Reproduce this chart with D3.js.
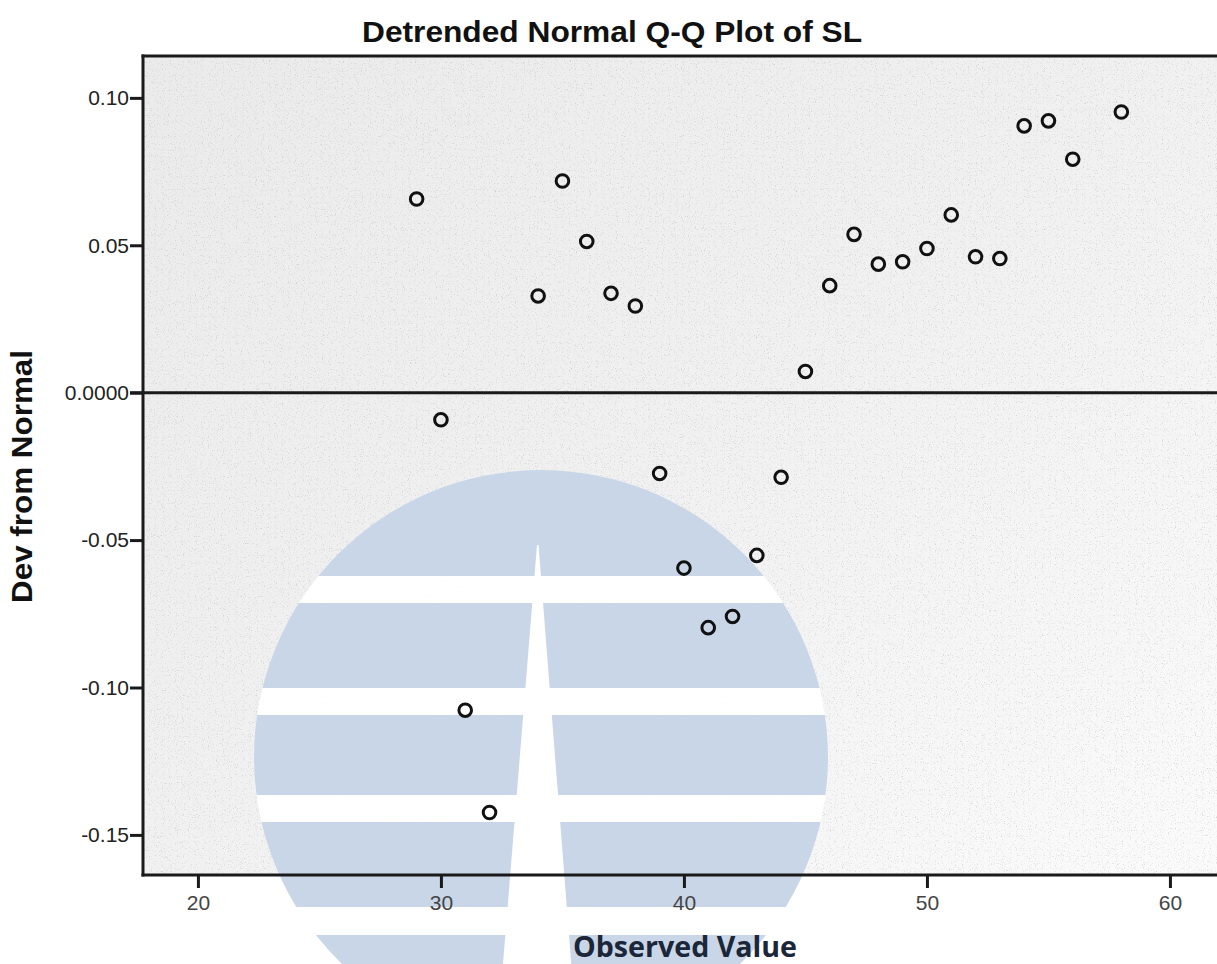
<!DOCTYPE html>
<html>
<head>
<meta charset="utf-8">
<title>Detrended Normal Q-Q Plot of SL</title>
<script src="https://d3js.org/d3.v7.min.js"></script>
<style>
  body { margin: 0; background: #fff; }
  svg text { font-family: Arial, "Liberation Sans", sans-serif; }
</style>
</head>
<body>
<div id="chart"></div>
<script>
// Observed values (x) and their deviation from normal (y)
var observed = [29, 30, 31, 32, 34, 35, 36, 37, 38, 39, 40, 41, 42, 43,
                44, 45, 46, 47, 48, 49, 50, 51, 52, 53, 54, 55, 56, 58];
var devFromNormal = [0.0657, -0.0092, -0.1077, -0.1424, 0.0328, 0.0718, 0.0513,
                     0.0337, 0.0294, -0.0274, -0.0595, -0.0797, -0.0759, -0.0552,
                     -0.0287, 0.0072, 0.0363, 0.0537, 0.0436, 0.0444, 0.0489,
                     0.0603, 0.0461, 0.0455, 0.0905, 0.0922, 0.0792, 0.0952];

var xTickValues = [20, 30, 40, 50, 60];
var yTickValues = [0.10, 0.05, 0, -0.05, -0.10, -0.15];
var yTickLabels = ["0.10", "0.05", "0.0000", "-0.05", "-0.10", "-0.15"];

var width = 1217, height = 964;
var plot = { left: 143, top: 56, right: 1220, bottom: 875 };

var svg = d3.select("#chart")
            .append("svg")
            .attr("width", width)
            .attr("height", height);

var xScale = d3.scaleLinear()
               .domain([17.74, 62.06])
               .range([plot.left, plot.right]);
var yScale = d3.scaleLinear()
               .domain([-0.1636, 0.1142])
               .range([plot.bottom, plot.top]);

// background: grey scan-like fill, lighter towards lower right
var defs = svg.append("defs");
var grad = defs.append("linearGradient").attr("id", "bg")
               .attr("x1", 0).attr("y1", 0).attr("x2", 1).attr("y2", 1);
grad.append("stop").attr("offset", "0%").attr("stop-color", "#ebebeb");
grad.append("stop").attr("offset", "50%").attr("stop-color", "#f1f1f1");
grad.append("stop").attr("offset", "100%").attr("stop-color", "#fbfbfb");

var noise = defs.append("filter").attr("id", "noise")
                .attr("x", 0).attr("y", 0).attr("width", "100%").attr("height", "100%");
noise.append("feTurbulence").attr("type", "fractalNoise")
     .attr("baseFrequency", 0.85).attr("numOctaves", 2).attr("seed", 4);
noise.append("feColorMatrix").attr("type", "matrix")
     .attr("values", "0 0 0 0 0.35  0 0 0 0 0.35  0 0 0 0 0.35  4 0 0 0 -2.3");

svg.append("rect")
   .attr("x", plot.left).attr("y", plot.top)
   .attr("width", plot.right - plot.left).attr("height", plot.bottom - plot.top)
   .attr("fill", "url(#bg)");
svg.append("rect")
   .attr("x", plot.left).attr("y", plot.top)
   .attr("width", plot.right - plot.left).attr("height", plot.bottom - plot.top)
   .attr("filter", "url(#noise)")
   .attr("opacity", 0.35);

// watermark globe
var wm = { cx: 541, cy: 757, r: 287 };
defs.append("clipPath").attr("id", "globe")
    .append("circle").attr("cx", wm.cx).attr("cy", wm.cy).attr("r", wm.r);
var globe = svg.append("g").attr("clip-path", "url(#globe)");
globe.append("rect")
     .attr("x", wm.cx - wm.r).attr("y", wm.cy - wm.r)
     .attr("width", wm.r * 2).attr("height", wm.r * 2)
     .attr("fill", "#fff").attr("opacity", 0.95);
[[470, 576], [603, 688], [715, 795], [822, 907], [935, 1050]].forEach(function(b) {
  globe.append("rect")
       .attr("x", wm.cx - wm.r).attr("y", b[0])
       .attr("width", wm.r * 2).attr("height", b[1] - b[0])
       .attr("fill", "#c3d2e6").attr("opacity", 0.92);
});
globe.append("polygon")
     .attr("points", "537,545 538.5,545 578,1050 496,1050")
     .attr("fill", "#fff");

// zero reference line
svg.append("line")
   .attr("x1", plot.left - 13).attr("x2", width)
   .attr("y1", yScale(0)).attr("y2", yScale(0))
   .attr("stroke", "#1a1a1a").attr("stroke-width", 3);

// top frame
svg.append("line")
   .attr("x1", plot.left - 1.5).attr("x2", width)
   .attr("y1", plot.top).attr("y2", plot.top)
   .attr("stroke", "#1a1a1a").attr("stroke-width", 3);

// y axis
var yAxis = svg.append("g")
   .attr("transform", "translate(" + plot.left + ",0)")
   .call(d3.axisLeft(yScale)
           .tickValues(yTickValues)
           .tickFormat(function(d, i) { return yTickLabels[i]; })
           .tickSize(13).tickSizeOuter(0).tickPadding(1));
yAxis.select(".domain").attr("stroke", "#1a1a1a").attr("stroke-width", 3)
     .attr("d", "M0," + (plot.top - 1.5) + "V" + (plot.bottom + 1.5));
yAxis.selectAll(".tick line").attr("stroke", "#1a1a1a").attr("stroke-width", 3);
yAxis.selectAll(".tick text").attr("font-size", 21).attr("fill", "#222");

// x axis
var xAxis = svg.append("g")
   .attr("transform", "translate(0," + plot.bottom + ")")
   .call(d3.axisBottom(xScale)
           .tickValues(xTickValues)
           .tickSize(13).tickSizeOuter(0).tickPadding(7));
xAxis.select(".domain").attr("stroke", "#1a1a1a").attr("stroke-width", 3)
     .attr("d", "M" + (plot.left - 1.5) + ",0H" + width);
xAxis.selectAll(".tick line").attr("stroke", "#1a1a1a").attr("stroke-width", 3);
xAxis.selectAll(".tick text").attr("font-size", 21).attr("fill", "#444");

// data points
svg.selectAll(".point")
   .data(observed)
   .enter()
   .append("circle")
   .attr("class", "point")
   .attr("cx", function(d) { return xScale(d); })
   .attr("cy", function(d, i) { return yScale(devFromNormal[i]); })
   .attr("r", 6.3)
   .attr("fill", "none")
   .attr("stroke", "#111")
   .attr("stroke-width", 3);

// title
svg.append("text")
   .attr("x", 362).attr("y", 42)
   .attr("font-size", 30).attr("font-weight", "bold").attr("fill", "#111")
   .attr("textLength", 500).attr("lengthAdjust", "spacingAndGlyphs")
   .text("Detrended Normal Q-Q Plot of SL");

// y axis label
svg.append("text")
   .attr("transform", "rotate(-90)")
   .attr("x", -603).attr("y", 32)
   .attr("font-size", 29).attr("font-weight", "bold").attr("fill", "#111")
   .attr("textLength", 253).attr("lengthAdjust", "spacingAndGlyphs")
   .text("Dev from Normal");

// x axis label
svg.append("text")
   .attr("x", 573).attr("y", 957)
   .style("font-family", "'Open Sans', sans-serif")
   .attr("font-size", 29).attr("font-weight", "bold").attr("fill", "#1b2638")
   .attr("textLength", 224).attr("lengthAdjust", "spacingAndGlyphs")
   .text("Observed Value");
</script>
</body>
</html>
